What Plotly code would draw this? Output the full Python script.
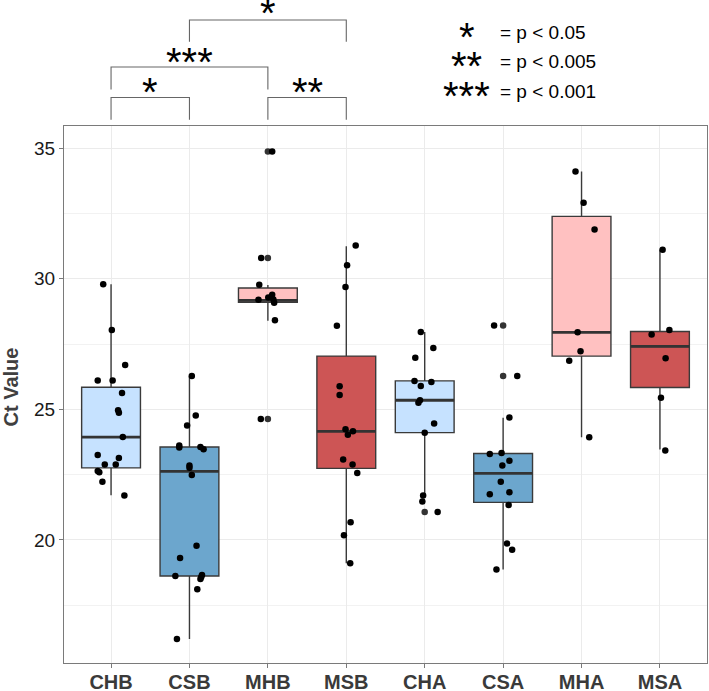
import plotly.graph_objects as go

categories = ["CHB", "CSB", "MHB", "MSB", "CHA", "CSA", "MHA", "MSA"]

# box statistics
q1 = [22.76, 18.62, 29.10, 22.74, 24.11, 21.44, 27.04, 25.84]
median = [23.94, 22.63, 29.17, 24.16, 25.35, 22.55, 27.95, 27.41]
q3 = [25.85, 23.56, 29.65, 27.04, 26.09, 23.31, 32.39, 27.98]
lower_whisker = [21.71, 16.21, 28.39, 19.11, 21.71, 18.87, 23.93, 23.46]
upper_whisker = [29.79, 26.28, 29.76, 31.25, 27.96, 24.68, 34.11, 31.11]

# outliers (drawn by the boxplot at the category centre)
chb_out = []
csb_out = []
mhb_out = [34.87, 30.80, 24.63]
msb_out = []
cha_out = [21.07]
csa_out = [28.21, 26.28]
mha_out = []
msa_out = []

# individual (jittered) observations
chb_vals = [29.79, 28.04, 26.70, 26.11, 26.11, 25.63, 24.97, 24.87, 23.94, 23.25, 23.14, 22.89, 22.89, 22.64, 22.59, 22.23, 21.70]
chb_jit = [-0.10, 0.01, 0.18, -0.17, 0.02, 0.14, 0.09, 0.10, 0.15, -0.17, 0.10, -0.08, 0.06, -0.17, -0.15, -0.11, 0.17]
csb_vals = [26.28, 24.77, 24.38, 23.62, 23.54, 23.56, 23.47, 22.85, 22.77, 22.49, 19.78, 19.31, 18.62, 18.66, 18.58, 18.51, 18.11, 16.21]
csb_jit = [0.03, 0.08, -0.03, -0.13, -0.13, 0.14, 0.18, 0.0, 0.0, 0.03, 0.09, -0.12, -0.18, 0.16, 0.15, 0.14, 0.10, -0.16]
mhb_vals = [34.87, 30.80, 29.77, 29.20, 29.28, 29.39, 29.21, 29.08, 28.41, 24.63]
mhb_jit = [0.055, -0.085, -0.11, -0.12, 0.005, 0.055, 0.07, 0.08, 0.09, -0.09]
msb_vals = [31.27, 30.52, 29.69, 28.20, 25.89, 25.55, 24.24, 24.16, 24.03, 23.08, 22.89, 22.56, 20.68, 20.18, 19.11]
msb_jit = [0.12, 0.01, -0.01, -0.12, -0.085, -0.085, -0.01, 0.085, 0.02, -0.04, 0.08, 0.14, 0.055, -0.03, 0.05]
cha_vals = [27.96, 27.35, 26.98, 26.09, 26.05, 25.90, 25.35, 25.25, 24.46, 24.11, 21.70, 21.47, 21.07]
cha_jit = [-0.05, 0.11, -0.12, -0.13, 0.085, -0.05, -0.06, -0.08, 0.12, 0.0, -0.02, -0.03, 0.165]
csa_vals = [28.21, 26.28, 24.69, 23.29, 23.33, 23.03, 22.85, 22.23, 21.75, 21.83, 21.34, 19.87, 19.63, 18.87]
csa_jit = [-0.115, 0.18, 0.08, -0.17, -0.02, 0.08, -0.01, -0.03, -0.17, 0.08, 0.07, 0.05, 0.115, -0.085]
mha_vals = [34.11, 32.91, 31.89, 27.95, 27.23, 26.86, 23.93]
mha_jit = [-0.077, 0.026, 0.166, -0.05, -0.013, -0.157, 0.098]
msa_vals = [31.11, 28.04, 27.87, 26.96, 25.45, 23.43]
msa_jit = [0.034, 0.12, -0.106, 0.072, 0.013, 0.068]

# significance comparisons: (left group, right group, label)
comparisons = [("CHB", "CSB", "*"), ("MHB", "MSB", "**"), ("CHB", "MHB", "***"), ("CSB", "MSB", "*")]
key_stars = ["*", "**", "***"]
key_texts = ["= p < 0.05", "= p < 0.005", "= p < 0.001"]

# ---------------------------------------------------------------- styling
fills = ["#C6E2FF", "#6CA6CD", "#FFC1C1", "#CD5555", "#C6E2FF", "#6CA6CD", "#FFC1C1", "#CD5555"]
edge = "#3a3a3a"
W, H = 709, 691
ML, MR, MT, MB = 64, 2, 126, 28
PH = H - MT - MB


def py(ypx):
    return (H - MB - ypx) / PH


def px(xpx):
    return (xpx - ML) / (W - ML - MR)


vals = [chb_vals, csb_vals, mhb_vals, msb_vals, cha_vals, csa_vals, mha_vals, msa_vals]
jits = [chb_jit, csb_jit, mhb_jit, msb_jit, cha_jit, csa_jit, mha_jit, msa_jit]
outs = [chb_out, csb_out, mhb_out, msb_out, cha_out, csa_out, mha_out, msa_out]

fig = go.Figure()
BW = 0.75
for i, c in enumerate(categories):
    pos = i + 1
    fig.add_trace(go.Box(
        x=[pos], q1=[q1[i]], median=[median[i]], q3=[q3[i]],
        lowerfence=[lower_whisker[i]], upperfence=[upper_whisker[i]],
        width=BW, whiskerwidth=0, fillcolor=fills[i],
        line=dict(color=edge, width=1.4), boxpoints=False,
        showlegend=False, hoverinfo="skip", name=c))
    fig.add_trace(go.Scatter(
        x=[pos - BW / 2, pos + BW / 2], y=[median[i], median[i]], mode="lines",
        line=dict(color="#333333", width=2.8), showlegend=False, hoverinfo="skip"))

for i, c in enumerate(categories):
    pos = i + 1
    if outs[i]:
        fig.add_trace(go.Scatter(
            x=[pos] * len(outs[i]), y=outs[i], mode="markers",
            marker=dict(color="#333333", size=6.5), showlegend=False, hoverinfo="skip"))
    fig.add_trace(go.Scatter(
        x=[pos + j for j in jits[i]], y=vals[i], mode="markers",
        marker=dict(color="black", size=6.5), showlegend=False, name=c))

# significance brackets
bracket_tops = [97.5, 97.5, 67.0, 20.0]
bracket_bottoms = [119.8, 119.8, 89.5, 41.7]
star_y = [86.5, 86.5, 57.3, 8.3]
STAR_FONT = 40
STAR_SHIFT = 5
for k, (a, b, lab) in enumerate(comparisons):
    xa = categories.index(a) + 1
    xb = categories.index(b) + 1
    yt, yb = py(bracket_tops[k]), py(bracket_bottoms[k])
    fig.add_shape(type="path", xref="x", yref="paper",
                  path=f"M {xa} {yb} L {xa} {yt} L {xb} {yt} L {xb} {yb}",
                  line=dict(color="#666666", width=1.1))
    fig.add_annotation(x=(xa + xb) / 2, xref="x", y=py(star_y[k] + STAR_SHIFT), yref="paper",
                       text=lab, showarrow=False, xanchor="center", yanchor="middle",
                       font=dict(size=STAR_FONT, color="black", family="Liberation Sans, Arial"))

# significance key
key_y = [31.7, 60.5, 91.0]
for k in range(3):
    fig.add_annotation(x=px(466.5), xref="paper", y=py(key_y[k] + STAR_SHIFT), yref="paper",
                       text=key_stars[k], showarrow=False, xanchor="center", yanchor="middle",
                       font=dict(size=STAR_FONT, color="black", family="Liberation Sans, Arial"))
    fig.add_annotation(x=px(498), xref="paper", y=py(key_y[k] + 0.8), yref="paper",
                       text=key_texts[k], showarrow=False, xanchor="left", yanchor="middle",
                       font=dict(size=19, color="black", family="Liberation Sans, Arial"))

# y axis title
fig.add_annotation(x=px(10), xref="paper", y=py(387.5), yref="paper", text="<b>Ct Value</b>",
                   textangle=-90, showarrow=False, xanchor="center", yanchor="middle",
                   font=dict(size=20, color="#404040", family="Liberation Sans, Arial"))

fig.update_layout(
    width=W, height=H, margin=dict(l=ML, r=MR, t=MT, b=MB, autoexpand=False),
    paper_bgcolor="white", plot_bgcolor="white",
    font=dict(family="Liberation Sans, Arial", color="#222222"),
    showlegend=False,
)
fig.update_xaxes(
    range=[0.4, 8.6], tickmode="array", tickvals=list(range(1, len(categories) + 1)),
    ticktext=categories, showgrid=True, gridcolor="#ebebeb", gridwidth=1, automargin=False,
    zeroline=False, showline=True, linecolor="#7a7a7a", linewidth=1, mirror=True,
    ticks="outside", ticklen=4, tickcolor="#7a7a7a", ticklabelstandoff=-3,
    tickfont=dict(size=20, color="#3a3a3a", weight="bold", family="Liberation Sans, Arial"),
)
fig.update_yaxes(
    range=[15.29, 35.85], tickmode="array", tickvals=[20, 25, 30, 35], automargin=False,
    showgrid=True, gridcolor="#ebebeb", gridwidth=1,
    minor=dict(tickvals=[17.5, 22.5, 27.5, 32.5], showgrid=True, gridcolor="#f2f2f2", gridwidth=1),
    zeroline=False, showline=True, linecolor="#7a7a7a", linewidth=1, mirror=True,
    ticks="outside", ticklen=4, tickcolor="#7a7a7a",
    tickfont=dict(size=19, color="#1a1a1a", family="Liberation Sans, Arial"),
)

fig.write_html("out.html", config={"displayModeBar": False},
               post_script="document.body.style.margin='0';document.body.style.overflow='hidden';")
